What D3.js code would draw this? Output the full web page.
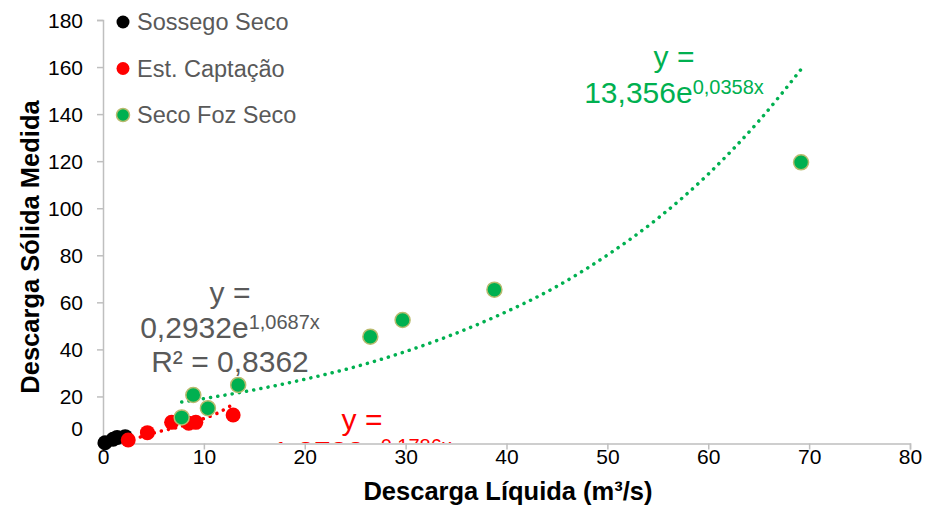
<!DOCTYPE html>
<html>
<head>
<meta charset="utf-8">
<script src="https://cdn.jsdelivr.net/npm/d3@7"></script>
<style>
  body { margin: 0; background: #fff; }
  svg { font-family: "Liberation Sans", Arial, sans-serif; }
</style>
</head>
<body>
<svg width="928" height="506"></svg>
<script>
// Series: [Descarga Líquida, Descarga Sólida]
const sossego = [[0.2, 0.3], [1.0, 1.8], [1.4, 2.6], [2.2, 2.9]];
const captacao = [[2.5, 1.5], [4.4, 4.6], [6.8, 9.0], [8.5, 8.6], [9.2, 9.0], [12.9, 12.1]];
const fozSeco = [[7.8, 11.1], [8.95, 20.6], [10.4, 15.0], [13.4, 24.9],
                 [26.5, 45.4], [29.7, 52.5], [38.8, 65.4], [69.2, 119.5]];

// dotted trend lines
const trendSossego = [[0.2, 0.36], [1.0, 0.85], [1.5, 1.45], [2.2, 3.0]];
const trendCaptacao = [[3.0, 1.8], [5.5, 5.0], [7.6, 7.1], [9.8, 10.3], [11.3, 12.8], [12.6, 15.9]];
const trendFoz = [[7.8, 17.6], [15, 22.8], [20, 27.3], [26.5, 34.4], [30, 39.1], [38.8, 53.7],
                  [45, 66.8], [50, 80.1], [55, 95.7], [60, 114.5], [65, 137], [69.2, 159]];

const xTicks = [0, 10, 20, 30, 40, 50, 60, 70, 80];
const yTicks = [0, 20, 40, 60, 80, 100, 120, 140, 160, 180];
const legendNames = ["Sossego Seco", "Est. Captação", "Seco Foz Seco"];

const svg = d3.select("svg");
const axisColor = "#bfbfbf";

const x = d3.scaleLinear().domain([0, 80]).range([103, 910]);
const y = d3.scaleLinear().domain([0, 180]).range([443.5, 20]);

// clip for labels that run under the axis
svg.append("clipPath").attr("id", "plot")
  .append("rect").attr("x", 0).attr("y", 0).attr("width", 928).attr("height", 443);

// y axis
const yAxis = svg.append("g")
  .attr("transform", `translate(${x(0)},0)`)
  .call(d3.axisLeft(y).tickValues(yTicks).tickSize(6).tickPadding(14));
yAxis.select(".domain").attr("stroke", axisColor).attr("stroke-width", 1.5);
yAxis.selectAll(".tick line").attr("stroke", axisColor).attr("stroke-width", 1.5);
yAxis.selectAll(".tick text")
  .attr("font-size", 21).attr("fill", "#000").attr("font-family", null)
  .attr("dy", (d) => d === 0 ? "-0.37em" : "0.35em");

// x axis
const xAxis = svg.append("g")
  .attr("transform", `translate(0,${y(0)})`)
  .call(d3.axisBottom(x).tickValues(xTicks).tickSize(6).tickPadding(0));
xAxis.select(".domain").attr("stroke", axisColor).attr("stroke-width", 1.5);
xAxis.selectAll(".tick line").attr("stroke", axisColor).attr("stroke-width", 1.5);
xAxis.selectAll(".tick text")
  .attr("font-size", 21).attr("fill", "#000").attr("font-family", null);

// axis titles
svg.append("text")
  .attr("x", 508).attr("y", 500)
  .attr("text-anchor", "middle")
  .attr("font-size", 25.5).attr("font-weight", "bold")
  .text("Descarga Líquida (m³/s)");

svg.append("text")
  .attr("transform", "translate(39,247) rotate(-90)")
  .attr("text-anchor", "middle")
  .attr("font-size", 25.5).attr("font-weight", "bold")
  .text("Descarga Sólida Medida");

// trend lines
const line = d3.line().x((d) => x(d[0])).y((d) => y(d[1])).curve(d3.curveMonotoneX);
const trends = [
  { data: trendSossego, color: "#000" },
  { data: trendCaptacao, color: "#ff0000" },
  { data: trendFoz, color: "#00b050" },
];
svg.selectAll("path.trend")
  .data(trends)
  .enter()
  .append("path")
  .attr("class", "trend")
  .attr("d", (d) => line(d.data))
  .attr("fill", "none")
  .attr("stroke", (d) => d.color)
  .attr("stroke-width", 3.5)
  .attr("stroke-linecap", "round")
  .attr("stroke-dasharray", "0.1 7.2");

// points
const series = [
  { data: sossego, fill: "#000", stroke: "none" },
  { data: captacao, fill: "#ff0000", stroke: "none" },
  { data: fozSeco, fill: "#00b050", stroke: "#b8bb6e" },
];
series.forEach((s) => {
  svg.append("g")
    .selectAll("circle")
    .data(s.data)
    .enter()
    .append("circle")
    .attr("cx", (d) => x(d[0]))
    .attr("cy", (d) => y(d[1]))
    .attr("r", 7.5)
    .attr("fill", s.fill)
    .attr("stroke", s.stroke)
    .attr("stroke-width", 1.5);
});

// legend
const legend = svg.append("g");
legendNames.forEach((name, i) => {
  const cy = 22 + i * 46.5;
  legend.append("circle")
    .attr("cx", 123).attr("cy", cy).attr("r", 6.5)
    .attr("fill", series[i].fill)
    .attr("stroke", series[i].stroke).attr("stroke-width", 1.5);
  legend.append("text")
    .attr("x", 137).attr("y", cy + 8)
    .attr("font-size", 23.5).attr("fill", "#595959")
    .text(name);
});

// equation labels
function equation(cx, baseline, lines, color, clip) {
  const g = svg.append("g");
  if (clip) g.attr("clip-path", "url(#plot)");
  lines.forEach((ln, i) => {
    const t = g.append("text")
      .attr("x", cx).attr("y", baseline[i])
      .attr("text-anchor", "middle")
      .attr("font-size", 30).attr("fill", color);
    t.append("tspan").text(ln[0]);
    if (ln[1]) t.append("tspan").attr("font-size", 20).attr("dy", -9).text(ln[1]);
  });
}
equation(674, [67, 103], [["y ="], ["13,356e", "0,0358x"]], "#00b050", false);
equation(230, [303, 338, 372], [["y ="], ["0,2932e", "1,0687x"], ["R² = 0,8362"]], "#595959", false);
equation(362, [430, 462], [["y ="], ["1,2732e", "0,1786x"]], "#ff0000", true);
</script>
</body>
</html>
